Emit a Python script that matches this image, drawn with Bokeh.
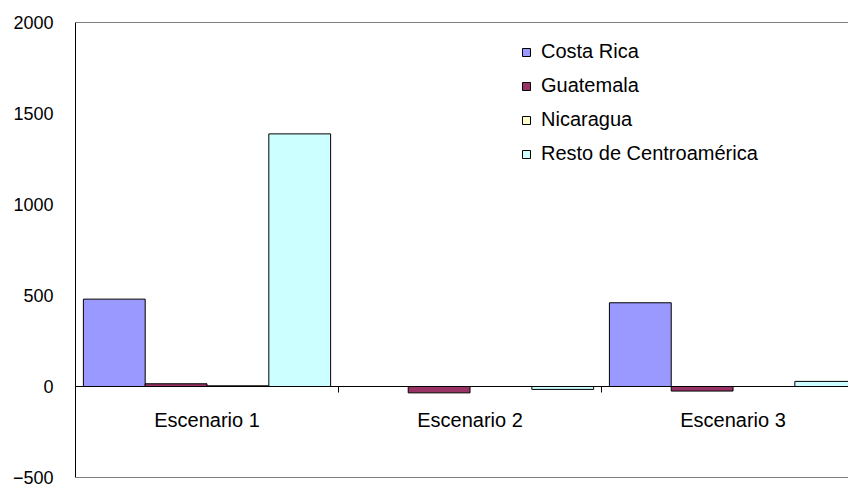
from bokeh.plotting import figure
from bokeh.models import (ColumnDataSource, Range1d, LinearAxis, FixedTicker, Span,
                          Legend, LegendItem)
from bokeh.embed import file_html
from bokeh.resources import INLINE

# ---- data ----
scenarios = ["Escenario 1", "Escenario 2", "Escenario 3"]
series_names = ["Costa Rica", "Guatemala", "Nicaragua", "Resto de Centroamérica"]
costa_rica = [480, 0, 460]
guatemala = [15, -35, -25]
nicaragua = [4, 0, 0]
resto = [1388, -16, 28]
y_ticks = [-500, 0, 500, 1000, 1500, 2000]

colors = ["#9999FF", "#993366", "#FFFFCC", "#CCFFFF"]
values = [costa_rica, guatemala, nicaragua, resto]

FONT = "Liberation Sans"

p = figure(width=848, height=488, output_backend="svg", toolbar_location=None,
           x_axis_type=None, y_axis_type=None,
           x_range=Range1d(0, 2.939), y_range=Range1d(-500, 2000),
           min_border_left=75, min_border_right=0, min_border_top=22, min_border_bottom=11)
p.outline_line_color = None
p.background_fill_color = "white"
p.border_fill_color = "white"

# y axis
yaxis = LinearAxis(ticker=FixedTicker(ticks=y_ticks))
yaxis.axis_line_color = "black"
yaxis.axis_line_width = 1
yaxis.major_tick_in = 0
yaxis.major_tick_out = 0
yaxis.minor_tick_line_color = None
yaxis.major_label_text_font = FONT
yaxis.major_label_text_font_size = "18px"
yaxis.major_label_text_color = "black"
yaxis.major_label_standoff = 22
p.add_layout(yaxis, "left")

# grid
p.ygrid.ticker = FixedTicker(ticks=[500, 1000, 1500])
p.ygrid.grid_line_color = "#A0A0A0"
p.ygrid.grid_line_dash = "8 7"
p.xgrid.grid_line_color = None

# frame top / bottom lines
p.add_layout(Span(location=2000, dimension="width", line_color="black", line_width=1))
p.add_layout(Span(location=-500, dimension="width", line_color="black", line_width=1))

# bars
n = len(series_names)
bw = 0.235
offsets = [(-1.5 + i) * bw for i in range(n)]
centers = [i + 0.5 for i in range(len(scenarios))]
items = []
for i, (name, vals, col) in enumerate(zip(series_names, values, colors)):
    src = ColumnDataSource(dict(x=[c + offsets[i] for c in centers], top=vals,
                                bottom=[0] * len(vals)))
    r = p.vbar(x="x", top="top", bottom="bottom", width=bw, source=src,
               fill_color=col, line_color="black", line_width=1)
    items.append(LegendItem(label=name, renderers=[r]))

# x axis at zero
xaxis = LinearAxis(ticker=FixedTicker(ticks=centers, minor_ticks=[1, 2, 3]),
                   fixed_location=0)
xaxis.major_label_overrides = {c: s for c, s in zip(centers, scenarios)}
xaxis.axis_line_color = "black"
xaxis.major_tick_line_color = None
xaxis.major_tick_in = 0
xaxis.major_tick_out = 0
xaxis.minor_tick_in = 0
xaxis.minor_tick_out = 6
xaxis.minor_tick_line_color = "black"
xaxis.major_label_text_font = FONT
xaxis.major_label_text_font_size = "20px"
xaxis.major_label_text_color = "black"
xaxis.major_label_standoff = 16
p.add_layout(xaxis, "below")

legend = Legend(items=items, location=(446, 312), orientation="vertical")
legend.border_line_color = None
legend.background_fill_alpha = 0
legend.padding = 0
legend.margin = 0
legend.glyph_width = 10
legend.glyph_height = 10
legend.label_standoff = 10
legend.spacing = 11
legend.label_text_font = FONT
legend.label_text_font_size = "20px"
legend.label_text_color = "black"
p.add_layout(legend, "center")

open("out.html", "w").write(file_html(p, INLINE))
